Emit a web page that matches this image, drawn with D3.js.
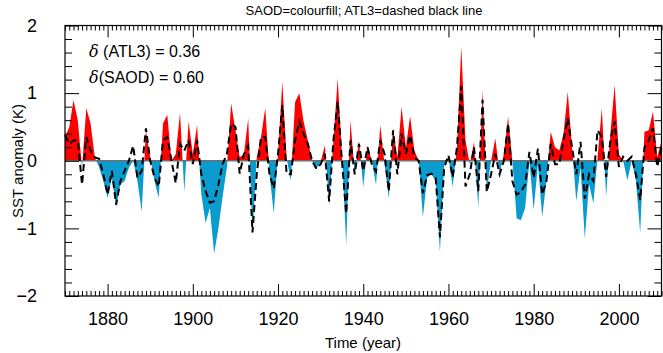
<!DOCTYPE html>
<html><head><meta charset="utf-8">
<script src="https://cdn.jsdelivr.net/npm/d3@7"></script>
<style>body{margin:0;background:#fff}svg{display:block;font-family:"Liberation Sans",Arial,sans-serif}</style>
</head><body><svg id="c" width="663" height="353"></svg>
<script>
const years = d3.range(1870, 2011);
const saod = [0.35,0.5,0.9,0.6,-0.1,0.78,0.55,0.05,-0.1,-0.3,
-0.55,-0.25,-0.68,-0.35,-0.3,-0.1,0.0,-0.3,-0.75,0.45,
0.05,-0.3,-0.55,0.55,0.68,0.0,0.1,0.71,-0.46,0.58,
0.1,0.53,-0.5,-0.92,-0.7,-1.37,-1.0,-0.53,-0.1,0.85,
0.45,0.05,0.1,0.63,-1.1,0.05,0.35,0.78,-0.2,-0.78,
0.1,1.17,0.05,-0.3,0.87,1.0,0.58,0.3,0.0,-0.12,
-0.02,0.23,-0.66,0.3,1.22,0.1,-1.25,0.6,-0.2,0.3,
-0.39,0.22,0.0,-0.36,0.53,-0.05,-0.56,0.48,0.05,0.8,
0.2,0.66,0.15,0.0,-0.83,-0.25,-0.2,-0.3,-1.35,-0.05,
0.05,-0.39,0.2,1.69,0.3,-0.05,0.28,-0.7,1.05,-0.46,
0.0,0.33,-0.19,0.1,0.65,0.0,-0.85,-0.88,-0.7,0.0,
-0.73,-0.05,-0.83,-0.3,0.43,0.2,0.15,0.4,1.02,0.2,
-0.6,-0.1,-1.15,-0.35,-0.63,0.05,0.78,-0.53,0.4,1.12,
0.1,0.0,-0.29,0.0,-0.3,-1.07,0.43,0.45,0.73,0.05,0.3];
const atl3 = [0.38,0.25,0.3,0.3,-0.35,0.35,0.15,0.05,0.03,-0.2,
-0.5,-0.15,-0.65,-0.3,-0.15,0.0,0.22,-0.25,-0.15,0.48,
0.0,-0.25,-0.38,0.3,0.35,0.0,-0.33,0.25,0.15,0.3,
-0.05,0.3,-0.2,-0.45,-0.62,-0.6,-0.35,-0.05,0.1,0.55,
0.5,-0.19,0.1,0.22,-1.06,-0.2,0.35,0.35,-0.2,-0.41,
0.1,0.82,-0.19,-0.2,0.3,0.58,0.4,0.25,0.0,-0.12,
-0.05,0.1,-0.6,0.3,0.87,0.0,-0.78,0.3,-0.2,0.25,
-0.15,0.2,-0.05,-0.16,0.3,0.1,-0.45,0.45,-0.2,0.4,
0.1,0.38,0.05,0.0,-0.48,-0.21,-0.19,-0.25,-1.13,-0.1,
0.08,-0.24,0.2,1.1,-0.38,-0.2,0.2,-0.45,0.9,-0.46,
-0.2,0.1,-0.2,0.0,0.55,-0.3,-0.5,-0.46,-0.35,0.13,
-0.25,0.18,-0.5,-0.3,0.25,-0.05,-0.05,0.3,0.63,0.2,
-0.2,0.28,-0.56,-0.2,-0.3,0.45,0.35,-0.24,0.3,0.58,
-0.09,0.06,0.0,0.06,-0.2,-0.58,0.2,0.3,0.48,-0.09,0.2];
const xMajor = [1880,1900,1920,1940,1960,1980,2000];
const yMajor = [-2,-1,0,1,2];
const title = "SAOD=colourfill; ATL3=dashed black line";
const stats = [["(ATL3) = 0.36"," "],["(SAOD) = 0.60",""]];

const svg = d3.select("#c");
const L=65, R=661.5, T=25.5, B=296;
const x = d3.scaleLinear().domain([1870,2010]).range([L,R]);
const y = d3.scaleLinear().domain([-2,2]).range([B,T]);
const data = years.map((yr,i)=>({yr, s:saod[i], a:atl3[i]}));

const defs = svg.append("defs");
defs.append("clipPath").attr("id","up").append("rect").attr("x",L).attr("y",T).attr("width",R-L).attr("height",y(0)-T);
defs.append("clipPath").attr("id","dn").append("rect").attr("x",L).attr("y",y(0)).attr("width",R-L).attr("height",B-y(0));
const area = d3.area().x(d=>x(d.yr)).y0(y(0)).y1(d=>y(d.s));
svg.append("path").datum(data).attr("d",area).attr("fill","#ff0000").attr("clip-path","url(#up)");
svg.append("path").datum(data).attr("d",area).attr("fill","#0a9bcf").attr("clip-path","url(#dn)");
svg.append("line").attr("x1",L).attr("x2",R).attr("y1",y(0)).attr("y2",y(0)).attr("stroke","#6e6e6e").attr("stroke-width",1.3);
svg.append("path").datum(data).attr("d",d3.line().x(d=>x(d.yr)).y(d=>y(d.a)))
  .attr("fill","none").attr("stroke","#000").attr("stroke-width",2).attr("stroke-dasharray","7,4");

// axes
const xMinor = d3.range(1870,2011).filter(v=>!xMajor.includes(v));
const yMinor = d3.range(-20,21,2).map(v=>v/10).filter(v=>!yMajor.includes(v));
const fmt = d3.format("d");
svg.append("g").attr("transform",`translate(0,${B})`).call(d3.axisBottom(x).tickValues(xMajor).tickSize(-12).tickFormat(fmt).tickPadding(16));
svg.append("g").attr("transform",`translate(0,${B})`).call(d3.axisBottom(x).tickValues(xMinor).tickSize(-5).tickFormat(""));
svg.append("g").attr("transform",`translate(0,${T})`).call(d3.axisTop(x).tickValues(xMajor).tickSize(-12).tickFormat(""));
svg.append("g").attr("transform",`translate(0,${T})`).call(d3.axisTop(x).tickValues(xMinor).tickSize(-5).tickFormat(""));
svg.append("g").attr("transform",`translate(${L},0)`).call(d3.axisLeft(y).tickValues(yMajor).tickSize(-14).tickFormat(fmt).tickPadding(28));
svg.append("g").attr("transform",`translate(${L},0)`).call(d3.axisLeft(y).tickValues(yMinor).tickSize(-7).tickFormat(""));
svg.append("g").attr("transform",`translate(${R},0)`).call(d3.axisRight(y).tickValues(yMajor).tickSize(-14).tickFormat(""));
svg.append("g").attr("transform",`translate(${R},0)`).call(d3.axisRight(y).tickValues(yMinor).tickSize(-7).tickFormat(""));
svg.selectAll(".domain").remove();
svg.selectAll(".tick line").attr("stroke","#000").attr("stroke-width",1);
svg.selectAll(".tick text").attr("font-family","Liberation Sans, Arial, sans-serif").attr("font-size",18).attr("fill","#000");
svg.append("rect").attr("x",L).attr("y",T).attr("width",R-L).attr("height",B-T).attr("fill","none").attr("stroke","#000").attr("stroke-width",1.2);

svg.append("text").attr("x",364).attr("y",15).attr("text-anchor","middle").attr("font-size",13).text(title);
svg.append("text").attr("x",363).attr("y",348).attr("text-anchor","middle").attr("font-size",15).text("Time (year)");
svg.append("text").attr("transform","translate(23,161) rotate(-90)").attr("text-anchor","middle").attr("font-size",15).text("SST anomaly (K)");
stats.forEach((s,i)=>{
  const t = svg.append("text").attr("x",89).attr("y",57+i*26).attr("font-size",16);
  t.append("tspan").attr("font-style","italic").attr("font-family","DejaVu Serif, serif").text("δ");
  t.append("tspan").text(s[1]+s[0]);
});
</script></body></html>
